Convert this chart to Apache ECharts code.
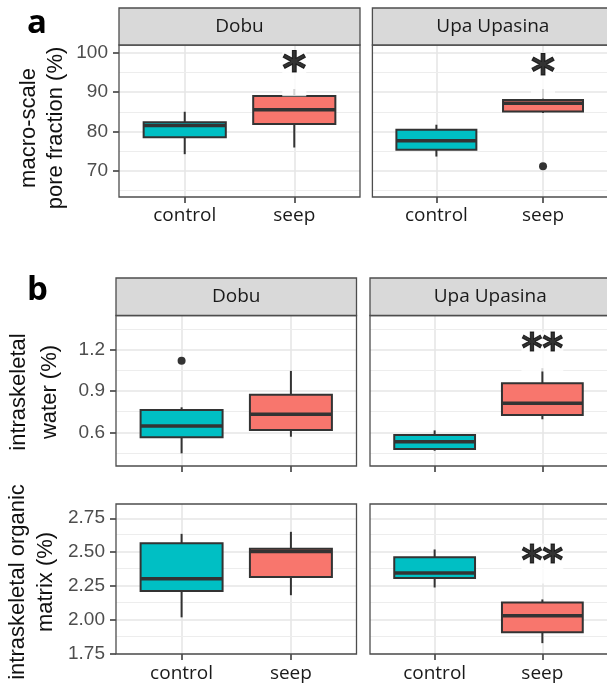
<!DOCTYPE html>
<html>
<head>
<meta charset="utf-8">
<script src="https://cdn.jsdelivr.net/npm/echarts@6/dist/echarts.min.js"></script>
<style>
    html, body { margin: 0; padding: 0; background: #fff; }
    #chart { width: 607px; height: 684px; }
</style>
</head>
<body>
<div id="chart"></div>
<script>
// facets and groups
let sites = ['Dobu', 'Upa Upasina'];
let groups = ['control', 'seep'];
let groupColors = ['#00BFC4', '#F8766D'];

// box stats per group: [min, Q1, median, Q3, max] -> control, seep
let poreDobu = [[74.2, 78.5, 81.5, 82.3, 85.0], [75.9, 81.9, 85.5, 89.0, 90.8]];
let poreUpa = [[73.6, 75.3, 77.6, 80.4, 81.7], [84.7, 85.1, 87.2, 88.0, 90.8]];
let waterDobu = [[0.447, 0.564, 0.646, 0.763, 0.782], [0.568, 0.617, 0.731, 0.874, 1.047]];
let waterUpa = [[0.466, 0.478, 0.532, 0.580, 0.614], [0.695, 0.726, 0.811, 0.957, 1.067]];
let organicDobu = [[2.020, 2.215, 2.305, 2.566, 2.635], [2.183, 2.317, 2.505, 2.525, 2.650]];
let organicUpa = [[2.240, 2.310, 2.346, 2.463, 2.520], [1.830, 1.910, 2.031, 2.130, 2.152]];

// outliers: [group position, value]
let poreUpaOutliers = [[2, 71.1]];
let waterDobuOutliers = [[1, 1.12]];

// significance marks: [group position, value, text]
let poreDobuStars = [[2, 96.9, '*']];
let poreUpaStars = [[2, 96.3, '*']];
let waterUpaStars = [[2, 1.24, '**']];
let organicUpaStars = [[2, 2.47, '**']];

// y ticks
let poreTicks = [70, 80, 90, 100];
let poreMinor = [65, 75, 85, 95];
let waterTicks = [0.6, 0.9, 1.2];
let waterMinor = [0.45, 0.75, 1.05, 1.35];
let organicTicks = [1.75, 2.00, 2.25, 2.50, 2.75];
let organicMinor = [1.875, 2.125, 2.375, 2.625];

let panels = [
    {left: 119, top: 45, width: 241, height: 152, stats: poreDobu, outliers: [], stars: poreDobuStars,
        range: [63.3, 102], ticks: poreTicks, minor: poreMinor, digits: 0, yLabels: true, xLabels: true, xMargin: 9, starSize: 46},
    {left: 372.4, top: 45, width: 241, height: 152, stats: poreUpa, outliers: poreUpaOutliers, stars: poreUpaStars,
        range: [63.3, 102], ticks: poreTicks, minor: poreMinor, digits: 0, yLabels: false, xLabels: true, xMargin: 9, starSize: 46},
    {left: 116, top: 315.5, width: 240.5, height: 150.5, stats: waterDobu, outliers: waterDobuOutliers, stars: [],
        range: [0.355, 1.45], ticks: waterTicks, minor: waterMinor, digits: 1, yLabels: true, xLabels: false, xMargin: 8, starSize: 40},
    {left: 370, top: 315.5, width: 240.5, height: 150.5, stats: waterUpa, outliers: [], stars: waterUpaStars,
        range: [0.355, 1.45], ticks: waterTicks, minor: waterMinor, digits: 1, yLabels: false, xLabels: false, xMargin: 8, starSize: 40},
    {left: 116, top: 504, width: 240.5, height: 150, stats: organicDobu, outliers: [], stars: [],
        range: [1.75, 2.855], ticks: organicTicks, minor: organicMinor, digits: 2, yLabels: true, xLabels: true, xMargin: 10, starSize: 40},
    {left: 370, top: 504, width: 240.5, height: 150, stats: organicUpa, outliers: [], stars: organicUpaStars,
        range: [1.75, 2.855], ticks: organicTicks, minor: organicMinor, digits: 2, yLabels: false, xLabels: true, xMargin: 10, starSize: 40}
];

// strips above the top row of each block
let strips = [
    {top: 8, height: 37, panels: [0, 1]},
    {top: 278, height: 37.5, panels: [2, 3]}
];

// y axis titles
let yTitles = [
    {text: 'macro-scale\npore fraction (%)', x: 42, y: 128, lineHeight: 27},
    {text: 'intraskeletal\nwater (%)', x: 34, y: 392, lineHeight: 31},
    {text: 'intraskeletal organic\nmatrix (%)', x: 32, y: 582, lineHeight: 28}
];

let BOX_HALF = 0.375;

function renderBox(params, api) {
    let x = api.value(0);
    let pMin = api.coord([x, api.value(1)]);
    let pQ1 = api.coord([x, api.value(2)]);
    let pMed = api.coord([x, api.value(3)]);
    let pQ3 = api.coord([x, api.value(4)]);
    let pMax = api.coord([x, api.value(5)]);
    let left = api.coord([x - BOX_HALF, api.value(3)])[0];
    let right = api.coord([x + BOX_HALF, api.value(3)])[0];
    let lineStyle = {stroke: '#333', lineWidth: 2};
    return {
        type: 'group',
        children: [
            {type: 'line', shape: {x1: pMax[0], y1: pMax[1], x2: pQ3[0], y2: pQ3[1]}, style: lineStyle},
            {type: 'line', shape: {x1: pMin[0], y1: pMin[1], x2: pQ1[0], y2: pQ1[1]}, style: lineStyle},
            {type: 'rect', shape: {x: left, y: pQ3[1], width: right - left, height: pQ1[1] - pQ3[1]},
                style: {fill: groupColors[params.dataIndex], stroke: '#333', lineWidth: 2}},
            {type: 'line', shape: {x1: left, y1: pMed[1], x2: right, y2: pMed[1]},
                style: {stroke: '#333', lineWidth: 3.5}}
        ]
    };
}

let grid = [], xAxis = [], yAxis = [], series = [], graphic = [];

panels.forEach((p, i) => {
    grid.push({left: p.left, top: p.top, width: p.width, height: p.height, show: false});

    xAxis.push({
        gridIndex: i,
        type: 'value',
        min: 0.4,
        max: 2.6,
        axisLine: {show: false},
        axisTick: {show: true, customValues: [1, 2], length: 6, lineStyle: {color: '#333', width: 1.5}},
        axisLabel: {
            show: p.xLabels,
            customValues: [1, 2],
            margin: p.xMargin,
            formatter: v => groups[Math.round(v) - 1],
            fontFamily: 'Open Sans',
            fontSize: 19,
            color: '#1a1a1a'
        },
        splitLine: {show: true, lineStyle: {color: '#e6e6e6', width: 1.6}}
    });

    yAxis.push({
        gridIndex: i,
        type: 'value',
        min: p.range[0],
        max: p.range[1],
        axisLine: {show: false},
        axisTick: {show: p.yLabels, customValues: p.ticks, length: 6, lineStyle: {color: '#333', width: 1.5}},
        axisLabel: {
            show: p.yLabels,
            customValues: p.ticks,
            margin: 11,
            formatter: v => v.toFixed(p.digits),
            fontFamily: 'Liberation Sans',
            fontSize: 19,
            color: '#4d4d4d'
        },
        splitLine: {show: true, lineStyle: {color: '#e6e6e6', width: 1.6}}
    });

    series.push({
        type: 'custom',
        xAxisIndex: i,
        yAxisIndex: i,
        renderItem: renderBox,
        encode: {x: 0, y: [1, 2, 3, 4, 5]},
        data: p.stats.map((s, k) => [k + 1].concat(s)),
        z: 3,
        animation: false,
        markLine: {
            silent: true,
            symbol: ['none', 'none'],
            label: {show: false},
            z: 1,
            lineStyle: {color: '#ededed', width: 1.1, type: 'solid'},
            data: p.minor.map(v => ({yAxis: v}))
        }
    });

    series.push({
        type: 'scatter',
        xAxisIndex: i,
        yAxisIndex: i,
        data: p.outliers,
        symbolSize: 8,
        itemStyle: {color: '#333', opacity: 1},
        z: 4,
        animation: false
    });

    series.push({
        type: 'scatter',
        xAxisIndex: i,
        yAxisIndex: i,
        data: p.stars,
        symbolSize: 1,
        itemStyle: {color: 'rgba(0,0,0,0)'},
        label: {
            show: true,
            position: 'inside',
            formatter: d => d.value[2],
            fontFamily: 'DejaVu Sans',
            fontWeight: 'bold',
            fontSize: p.starSize,
            color: '#000',
            textBorderColor: '#000',
            textBorderWidth: 1,
            backgroundColor: '#fff',
            offset: [0, p.starSize * 0.18]
        },
        z: 5,
        animation: false
    });

    // panel border
    graphic.push({
        type: 'rect',
        z: 100,
        shape: {x: p.left, y: p.top, width: p.width, height: p.height},
        style: {fill: 'none', stroke: '#4d4d4d', lineWidth: 1.3}
    });
});

strips.forEach(s => {
    s.panels.forEach((pi, k) => {
        let p = panels[pi];
        graphic.push({
            type: 'rect',
            z: 100,
            shape: {x: p.left, y: s.top, width: p.width, height: s.height},
            style: {fill: '#d9d9d9', stroke: '#4d4d4d', lineWidth: 1.3}
        });
        graphic.push({
            type: 'text',
            z: 101,
            x: p.left + p.width / 2,
            y: s.top + s.height / 2,
            style: {
                text: sites[k],
                font: '19px "Open Sans"',
                fill: '#1a1a1a',
                textAlign: 'center',
                textVerticalAlign: 'middle'
            }
        });
    });
});

yTitles.forEach(t => {
    graphic.push({
        type: 'text',
        z: 101,
        x: t.x,
        y: t.y,
        rotation: Math.PI / 2,
        style: {
            text: t.text,
            font: '22px "Liberation Sans"',
            fill: '#111',
            lineHeight: t.lineHeight,
            textAlign: 'center',
            textVerticalAlign: 'middle'
        }
    });
});

// panel letters
[['a', 27, 24], ['b', 27, 291]].forEach(l => {
    graphic.push({
        type: 'text',
        z: 101,
        x: l[1],
        y: l[2],
        style: {
            text: l[0],
            font: 'bold 33px "Open Sans"',
            fill: '#000',
            textAlign: 'left',
            textVerticalAlign: 'middle'
        }
    });
});

let myChart = echarts.init(document.getElementById('chart'), null, {renderer: 'canvas'});
myChart.setOption({
    animation: false,
    grid: grid,
    xAxis: xAxis,
    yAxis: yAxis,
    series: series,
    graphic: graphic
});
</script>
</body>
</html>
